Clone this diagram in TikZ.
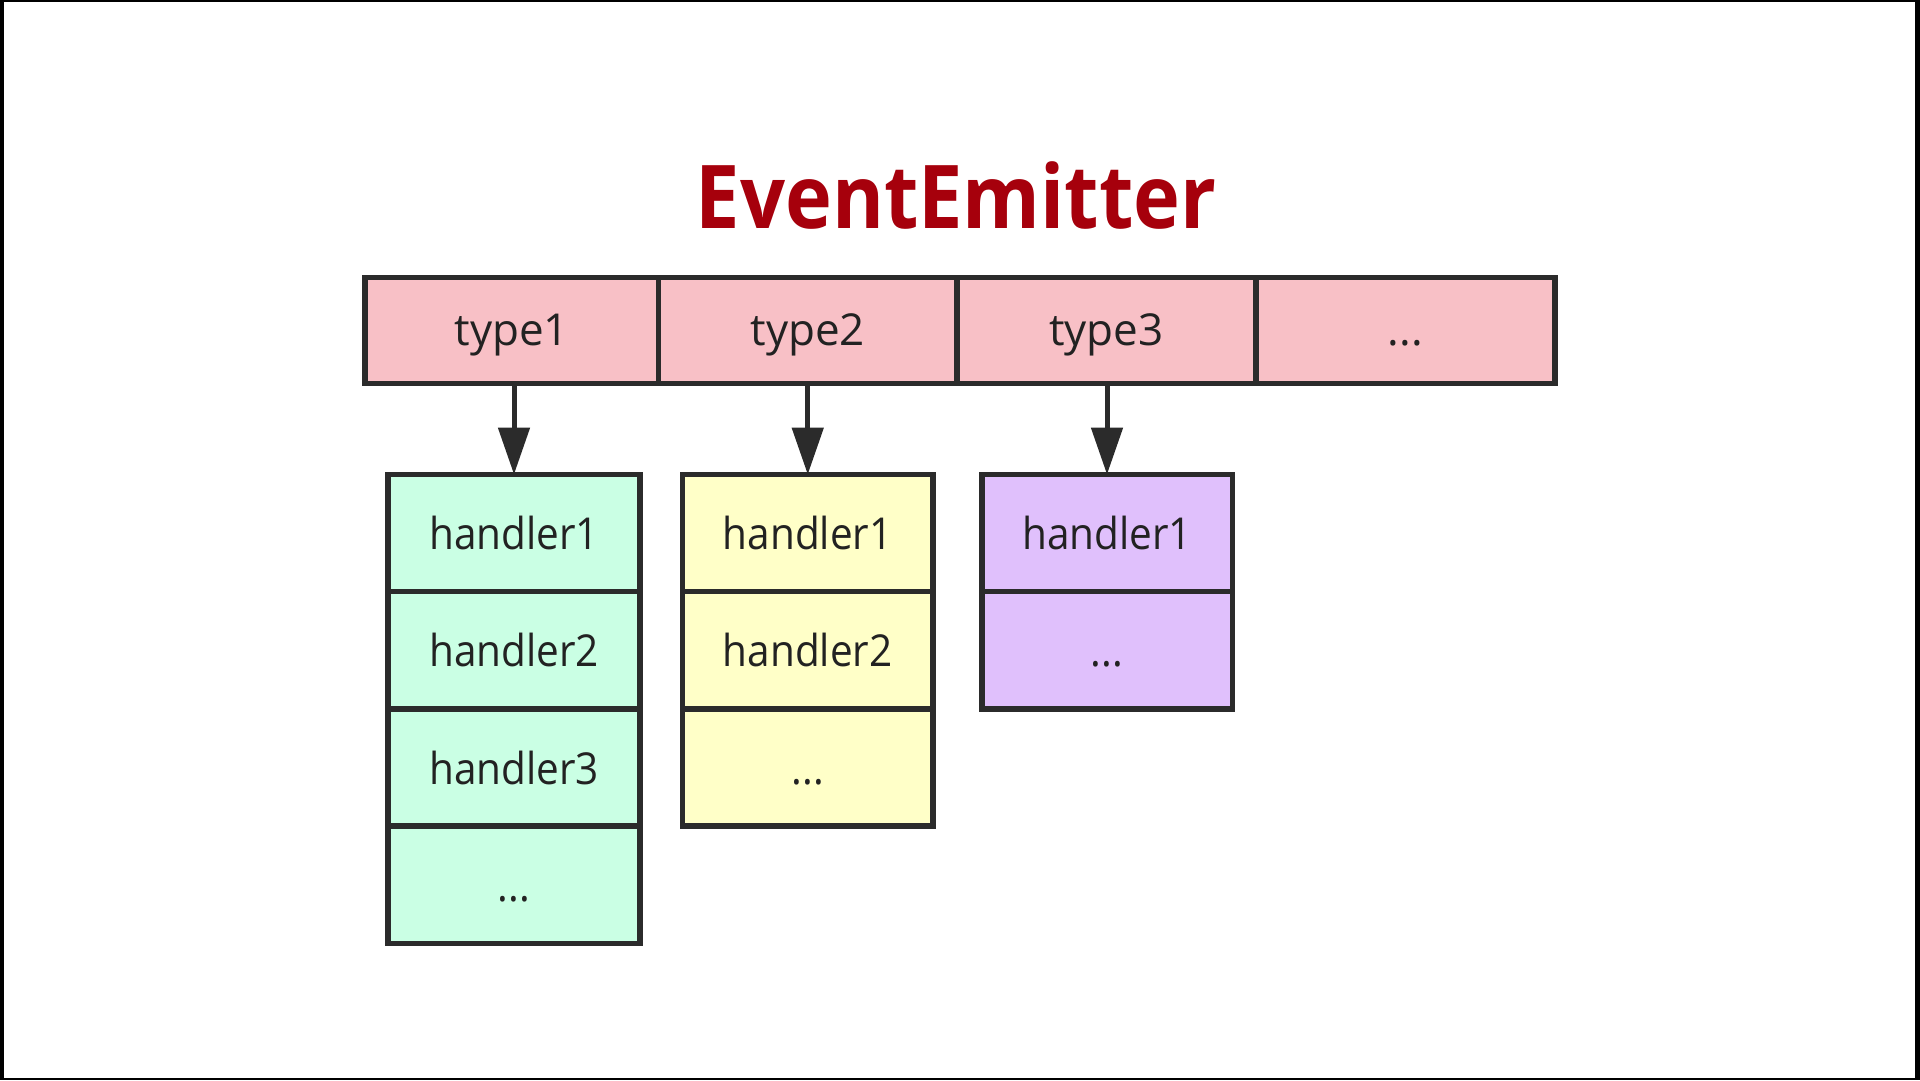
\documentclass[tikz,border=0pt]{standalone}
\usepackage{fontspec}
\setmainfont{Open Sans}[FakeStretch=0.92]
\newfontfamily\titlefont{Open Sans}[FakeStretch=0.9]
\newfontfamily\typefont{Open Sans}
\usetikzlibrary{arrows.meta}
\definecolor{edge}{RGB}{43,43,43}
\definecolor{txt}{RGB}{34,34,34}
\definecolor{titlered}{RGB}{166,0,12}
\definecolor{pinkc}{RGB}{248,192,198}
\definecolor{greenc}{RGB}{202,255,228}
\definecolor{yellowc}{RGB}{255,255,200}
\definecolor{purplec}{RGB}{224,192,252}
\begin{document}
\begin{tikzpicture}[x=1pt,y=-1pt,
  cellbox/.style={draw=edge, line width=5.5pt, rectangle, inner sep=0pt, outer sep=0pt,
    text=txt, font=\fontsize{44}{44}\selectfont, text height=33pt, text depth=0pt},
  typecell/.style={cellbox, fill=pinkc, minimum height=106pt, text height=29pt,
    font=\typefont\fontsize{44}{44}\selectfont},
  hcell/.style={cellbox, minimum height=117.2pt},
  gcell/.style={hcell, fill=greenc, minimum width=252pt},
  ycell/.style={hcell, fill=yellowc, minimum width=250.5pt},
  pcell/.style={hcell, fill=purplec, minimum width=250.5pt},
  arr/.style={draw=edge, line width=5pt, -{Triangle[width=31pt,length=47pt]}}]
\useasboundingbox (0,0) rectangle (1920,1080);
\fill[black] (0,0) rectangle (1920,1080);
\fill[white] (4,2) rectangle (1915,1078);
% title
\node[anchor=base, inner sep=0pt, text=titlered, font=\titlefont\fontsize{88}{88}\selectfont\bfseries] (title) at (956,228) {EventEmitter};
% type row
\node[typecell, minimum width=293.5pt] (t1) at (511.75,330.5) {type1};
\node[typecell, minimum width=298.5pt] (t2) at (807.75,330.5) {type2};
\node[typecell, minimum width=299pt] (t3) at (1106.5,330.5) {type3};
\node[typecell, minimum width=299pt] (t4) at (1405.5,330.5) {...};
% green column
\node[gcell] (g1) at (514,533.1) {handler1};
\node[gcell] (g2) at (514,650.3) {handler2};
\node[gcell] (g3) at (514,767.5) {handler3};
\node[gcell] (g4) at (514,884.7) {...};
% yellow column
\node[ycell] (y1) at (807.75,533.1) {handler1};
\node[ycell] (y2) at (807.75,650.3) {handler2};
\node[ycell] (y3) at (807.75,767.5) {...};
% purple column
\node[pcell] (p1) at (1107,533.1) {handler1};
\node[pcell] (p2) at (1107,650.3) {...};
% arrows
\draw[arr] (t1.south -| g1.north) -- (g1.north);
\draw[arr] (t2.south -| y1.north) -- (y1.north);
\draw[arr] (t3.south -| p1.north) -- (p1.north);
\end{tikzpicture}
\end{document}
